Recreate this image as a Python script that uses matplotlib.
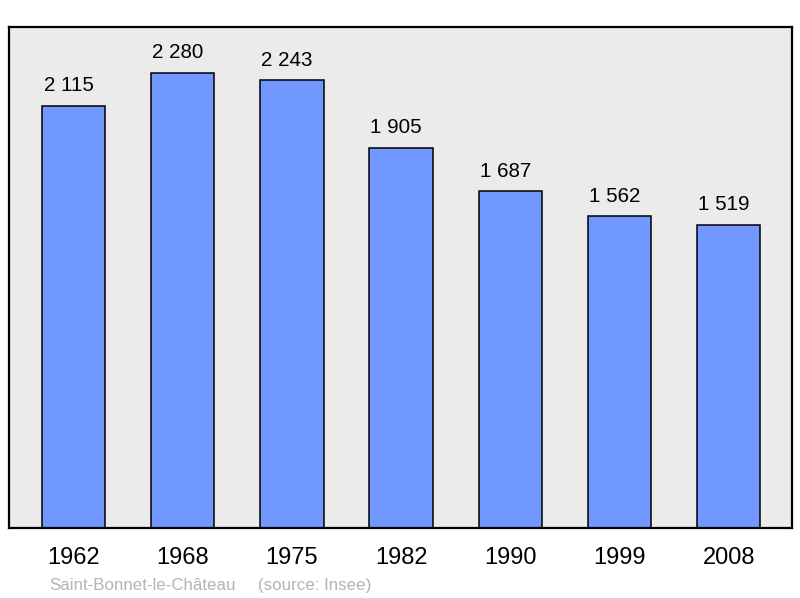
import numpy as np
import matplotlib.pyplot as plt

years = ["1962", "1968", "1975", "1982", "1990", "1999", "2008"]
population = [2115, 2280, 2243, 1905, 1687, 1562, 1519]
value_labels = ["2 115", "2 280", "2 243", "1 905", "1 687", "1 562", "1 519"]

plt.rcParams["font.family"] = ["Liberation Sans", "DejaVu Sans"]

fig = plt.figure(figsize=(8, 5.98), dpi=100)
ax = fig.add_axes([9 / 800, 70 / 598, 783 / 800, 501 / 598])
ax.set_facecolor("#ebebeb")

x = np.arange(len(years))
bars = ax.bar(x, population, width=0.58, color="#7098ff", edgecolor="black", linewidth=1.1, zorder=2)

for xi, v, lab in zip(x, population, value_labels):
    ax.annotate(lab, (xi, v), xytext=(-3.5, 7.5), textcoords="offset points",
                ha="center", va="bottom", fontsize=14.8, color="black")

ax.set_xlim(-0.59, 6.58)
ax.set_ylim(0, 2510)
ax.set_xticks(x)
ax.set_xticklabels(years, fontsize=17)
ax.tick_params(axis="x", length=0, pad=13.5)
ax.set_yticks([])
for s in ax.spines.values():
    s.set_linewidth(1.6)
    s.set_color("black")

fig.text(49 / 800, 1 - 585.5 / 598, "Saint-Bonnet-le-Château", fontsize=12.2, color="#b4b4b4", va="center")
fig.text(258 / 800, 1 - 585.5 / 598, "(source: Insee)", fontsize=12.2, color="#b4b4b4", va="center")

fig.savefig("out.png", dpi=100)
